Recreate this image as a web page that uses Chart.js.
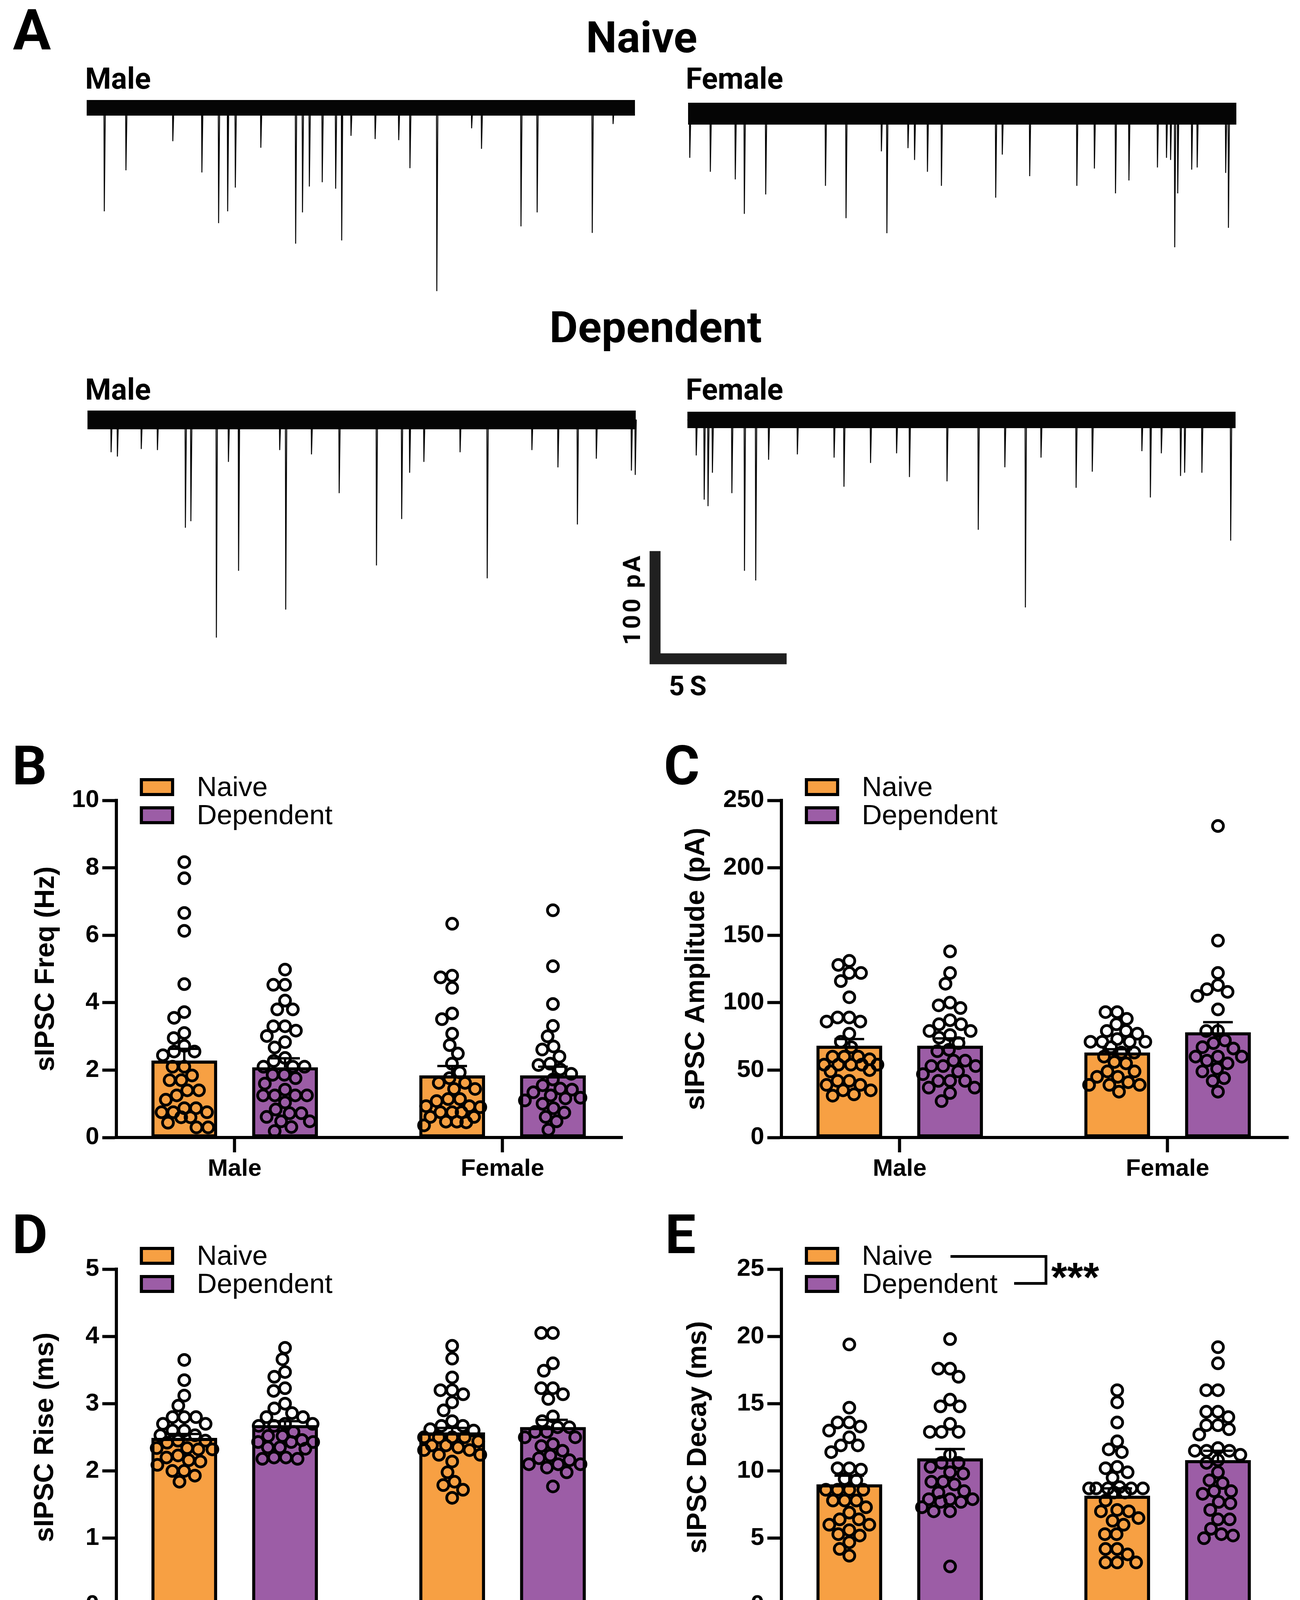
<!DOCTYPE html>
<html>
<head>
<meta charset="utf-8">
<script src="https://cdn.jsdelivr.net/npm/chart.js@4.4.1/dist/chart.umd.min.js"></script>
<style>
html, body { margin: 0; padding: 0; background: #fff; }
#page { position: relative; width: 3329px; height: 4257px; overflow: hidden; background: #fff; }
canvas { position: absolute; }
.t { position: absolute; white-space: nowrap; color: #000; }
.box { position: absolute; box-sizing: border-box; border: 8px solid #000; }
.rule { position: absolute; background: #000; }
</style>
</head>
<body>
<div id="page"></div>
<script>
// ---------- data ----------
const sexes = ['Male', 'Female']
const groups = ['Naive', 'Dependent']

// panel A: example traces, event time (s) and amplitude (pA)
const naiveMaleTimes = [0.63, 1.42, 3.13, 4.19, 4.80, 5.13, 5.41, 6.34, 7.61, 7.86, 8.11, 8.58, 9.07, 9.29, 9.63, 10.51, 11.37, 11.78, 12.76, 14.03, 14.39, 15.83, 16.42, 18.43, 19.19]
const naiveMaleAmps = [96, 58, 31, 60, 107, 96, 74, 37, 126, 97, 73, 69, 75, 123, 26, 29, 30, 56, 170, 19, 38, 110, 97, 116, 15]
const naiveFemaleTimes = [0.05, 0.80, 1.71, 2.04, 2.82, 5.00, 5.75, 7.04, 7.24, 8.01, 8.25, 8.72, 9.23, 11.21, 11.45, 12.45, 14.17, 14.81, 15.58, 16.07, 17.11, 17.44, 17.59, 17.74, 17.85, 18.36, 18.56, 19.60, 19.70]
const naiveFemaleAmps = [41, 54, 61, 93, 75, 67, 97, 35, 111, 32, 43, 54, 67, 78, 38, 58, 67, 51, 74, 62, 50, 41, 43, 124, 74, 52, 50, 55, 106]
const depMaleTimes = [0.85, 1.08, 1.95, 2.54, 3.56, 3.76, 4.69, 5.13, 5.50, 7.00, 7.22, 8.16, 9.17, 10.53, 11.45, 11.74, 12.26, 13.58, 14.57, 16.20, 17.15, 17.86, 18.55, 19.83, 19.97]
const depMaleAmps = [30, 34, 27, 28, 100, 94, 202, 39, 140, 28, 176, 32, 68, 135, 92, 49, 39, 30, 147, 28, 44, 97, 36, 47, 51]
const depFemaleTimes = [0.31, 0.60, 0.74, 0.90, 1.61, 2.07, 2.48, 2.95, 4.00, 5.34, 5.70, 6.67, 7.62, 8.09, 9.46, 10.60, 11.57, 12.32, 12.89, 14.17, 14.76, 16.57, 16.88, 17.28, 17.98, 18.13, 18.76, 19.81]
const depFemaleAmps = [33, 74, 80, 49, 68, 140, 149, 37, 32, 35, 62, 40, 31, 53, 57, 102, 44, 174, 35, 63, 48, 29, 72, 31, 52, 49, 49, 112]
const scaleBarPA = 100
const scaleBarSec = 5

// panels B-E: bar = mean, sem; order Naive male, Dependent male, Naive female, Dependent female
const freqMeans = [2.28, 2.08, 1.84, 1.84]
const freqSems = [0.35, 0.27, 0.28, 0.26]
const freqNaiveMale = [8.17, 7.69, 6.66, 6.13, 4.55, 3.72, 3.55, 3.10, 2.95, 2.72, 2.55, 2.55, 2.44, 2.10, 2.10, 1.84, 1.70, 1.70, 1.40, 1.40, 1.25, 1.12, 0.87, 0.87, 0.75, 0.75, 0.75, 0.60, 0.60, 0.44, 0.30, 0.30]
const freqDepMale = [4.98, 4.53, 4.53, 4.06, 3.80, 3.80, 3.30, 3.30, 3.17, 3.01, 2.83, 2.67, 2.36, 2.27, 2.10, 2.10, 2.10, 1.86, 1.86, 1.76, 1.60, 1.42, 1.25, 1.25, 1.25, 1.25, 1.04, 0.83, 0.72, 0.72, 0.61, 0.48, 0.48, 0.31, 0.19]
const freqNaiveFemale = [6.34, 4.80, 4.75, 4.44, 3.68, 3.51, 3.08, 2.74, 2.49, 2.19, 1.93, 1.76, 1.62, 1.62, 1.44, 1.44, 1.14, 1.14, 1.08, 0.93, 0.93, 0.90, 0.75, 0.75, 0.75, 0.61, 0.61, 0.47, 0.47, 0.45, 0.36]
const freqDepFemale = [6.74, 5.08, 3.96, 3.31, 3.00, 2.70, 2.61, 2.40, 2.19, 2.15, 2.02, 1.89, 1.72, 1.55, 1.45, 1.42, 1.34, 1.25, 1.18, 1.16, 1.10, 1.00, 0.87, 0.74, 0.61, 0.48, 0.23]

const ampMeans = [68, 68, 63, 78]
const ampSems = [5, 5.5, 2.5, 7.5]
const ampNaiveMale = [131, 128, 122, 122, 116, 104, 89, 89, 86, 86, 77, 71, 67, 60, 60, 60, 58, 54, 54, 54, 54, 54, 50, 49, 42, 42, 39, 39, 35, 35, 32, 31]
const ampDepMale = [138, 122, 114, 98, 100, 96, 87, 84, 84, 79, 79, 76, 74, 70, 65, 64, 57, 57, 53, 53, 53, 49, 47, 42, 42, 42, 37, 37, 33, 27]
const ampNaiveFemale = [93, 93, 88, 84, 79, 79, 77, 73, 71, 71, 71, 71, 67, 63, 63, 60, 56, 55, 49, 49, 45, 45, 41, 39, 39, 39, 34]
const ampDepFemale = [231, 146, 122, 113, 110, 108, 105, 95, 79, 79, 72, 70, 67, 66, 60, 60, 60, 57, 55, 51, 49, 44, 42, 34]

const riseMeans = [2.49, 2.68, 2.57, 2.65]
const riseSems = [0.06, 0.06, 0.07, 0.11]
const riseNaiveMale = [3.65, 3.35, 3.12, 2.97, 2.80, 2.80, 2.80, 2.70, 2.70, 2.60, 2.60, 2.53, 2.53, 2.45, 2.45, 2.42, 2.34, 2.34, 2.32, 2.32, 2.23, 2.20, 2.16, 2.14, 2.09, 2.00, 2.00, 1.93, 1.84]
const riseDepMale = [3.83, 3.66, 3.47, 3.40, 3.23, 3.19, 3.00, 2.93, 2.86, 2.80, 2.80, 2.70, 2.70, 2.67, 2.67, 2.58, 2.52, 2.52, 2.46, 2.43, 2.43, 2.43, 2.35, 2.35, 2.33, 2.20, 2.20, 2.18, 2.18]
const riseNaiveFemale = [3.86, 3.67, 3.39, 3.20, 3.20, 3.14, 3.02, 2.90, 2.74, 2.67, 2.67, 2.62, 2.60, 2.50, 2.50, 2.50, 2.50, 2.44, 2.38, 2.38, 2.35, 2.31, 2.31, 2.24, 2.24, 2.14, 1.98, 1.84, 1.79, 1.72, 1.60]
const riseDepFemale = [4.05, 4.05, 3.60, 3.49, 3.23, 3.23, 3.14, 3.07, 2.81, 2.74, 2.65, 2.65, 2.58, 2.58, 2.50, 2.50, 2.40, 2.37, 2.30, 2.23, 2.19, 2.16, 2.10, 2.10, 2.10, 2.05, 1.98, 1.77]

const decayMeans = [9.0, 10.93, 8.15, 10.8]
const decaySems = [0.65, 0.7, 0.55, 0.7]
const decayNaiveMale = [19.4, 14.7, 13.6, 13.6, 13.3, 13.0, 12.5, 11.9, 11.9, 11.4, 10.2, 10.2, 10.1, 9.4, 9.3, 8.6, 8.6, 8.6, 8.6, 7.8, 7.8, 7.8, 7.3, 6.9, 6.4, 6.4, 6.0, 6.0, 5.6, 5.3, 5.2, 4.7, 4.2, 3.7]
const decayDepMale = [19.8, 17.6, 17.6, 17.0, 15.3, 14.8, 14.8, 13.5, 12.9, 12.9, 12.9, 11.2, 10.6, 10.6, 10.3, 9.9, 9.8, 9.2, 9.2, 9.0, 8.5, 8.4, 7.9, 7.9, 7.9, 7.7, 7.7, 7.3, 7.0, 7.0, 2.9]
const decayNaiveFemale = [16.0, 15.1, 13.6, 12.2, 11.6, 11.4, 10.3, 10.2, 9.9, 9.5, 8.8, 8.7, 8.7, 8.7, 8.7, 8.7, 8.4, 8.4, 7.8, 7.1, 7.0, 7.0, 6.5, 6.3, 6.0, 5.3, 5.3, 4.2, 4.2, 3.8, 3.2, 3.2, 3.2]
const decayDepFemale = [19.2, 18.0, 16.0, 16.0, 14.4, 14.4, 14.0, 13.4, 13.4, 13.1, 12.7, 11.7, 11.5, 11.5, 11.5, 11.2, 10.8, 10.6, 9.9, 9.3, 9.1, 8.5, 8.5, 8.3, 7.7, 7.6, 7.1, 6.4, 6.4, 5.7, 5.3, 5.2, 5.0]

// ---------- styling ----------
const ORANGE = '#F7A043'
const PURPLE = '#9C5DA6'
const page = document.getElementById('page')
Chart.defaults.font.family = '"Liberation Sans", Arial, sans-serif'
Chart.defaults.color = '#000'

function addText(str, x, base, size, o = {}) {
  const el = document.createElement('div')
  el.className = 't'
  el.textContent = str
  el.style.font = `${o.weight || 'bold'} ${size}px/1 ${o.family || 'Roboto'}`
  el.style.left = x + 'px'
  el.style.top = (base - 0.845 * size) + 'px'
  if (o.align === 'center') el.style.transform = 'translateX(-50%)'
  if (o.spacing) el.style.letterSpacing = o.spacing + 'px'
  page.appendChild(el)
  return el
}

function addCanvas(left, top, w, h) {
  const c = document.createElement('canvas')
  c.width = Math.round(w); c.height = Math.round(h)
  c.style.left = Math.round(left) + 'px'; c.style.top = Math.round(top) + 'px'
  c.style.width = c.width + 'px'; c.style.height = c.height + 'px'
  page.appendChild(c)
  return c
}

// ---------- panel A: traces ----------
const pxPerSec = 70.2
const pxPerPA = 2.76

function traceChart({x0, baseline, tMin, tMax, yMin, yMax, band, times, amps, scaleBar}) {
  const w = (tMax - tMin) * pxPerSec
  const h = (yMax - yMin) * pxPerPA
  const canvas = addCanvas(x0 + tMin * pxPerSec, baseline - yMax * pxPerPA, w, h)
  const events = [{x: 0, y: 0}]
  times.forEach((t, i) => {
    events.push({x: t, y: 0}, {x: t + 0.012, y: -amps[i]}, {x: t + 0.05, y: 0})
  })
  events.push({x: 20, y: 0})
  const datasets = [
    // baseline noise drawn as a solid band
    {data: [{x: 0, y: 0}, {x: 20, y: 0}], borderColor: '#050505', borderWidth: band, pointRadius: 0, borderCapStyle: 'butt'},
    {data: events, borderColor: '#050505', borderWidth: 2.5, pointRadius: 0, borderJoinStyle: 'bevel'}
  ]
  if (scaleBar) {
    const t0 = -1.18, top = -121.7
    const half = 14 / pxPerSec
    datasets.push({
      data: [{x: t0, y: top}, {x: t0, y: top - scaleBarPA}, {x: t0 - half + scaleBarSec, y: top - scaleBarPA}],
      borderColor: '#202020', borderWidth: 28, pointRadius: 0, borderJoinStyle: 'miter', borderCapStyle: 'butt'
    })
  }
  new Chart(canvas, {
    type: 'line',
    data: {datasets},
    options: {
      responsive: false, animation: false, devicePixelRatio: 1,
      layout: {padding: 0},
      plugins: {legend: {display: false}, tooltip: {enabled: false}},
      scales: {
        x: {type: 'linear', min: tMin, max: tMax, display: false},
        y: {type: 'linear', min: yMin, max: yMax, display: false}
      }
    }
  })
}

traceChart({x0: 222, baseline: 276, tMin: 0, tMax: 20.1, yMin: -200, yMax: 25, band: 40, times: naiveMaleTimes, amps: naiveMaleAmps})
traceChart({x0: 1762, baseline: 291, tMin: 0, tMax: 20.1, yMin: -140, yMax: 25, band: 56, times: naiveFemaleTimes, amps: naiveFemaleAmps})
traceChart({x0: 224, baseline: 1075, tMin: 0, tMax: 20.1, yMin: -220, yMax: 25, band: 48, times: depMaleTimes, amps: depMaleAmps})
traceChart({x0: 1760, baseline: 1075, tMin: -1.6, tMax: 20.1, yMin: -240, yMax: 25, band: 42, times: depFemaleTimes, amps: depFemaleAmps, scaleBar: true})

addText('A', 33, 128, 145)
addText('Naive', 1643, 135, 112, {align: 'center'})
addText('Dependent', 1679, 877, 112, {align: 'center'})
addText('Male', 218, 227, 76)
addText('Female', 1756, 227, 76)
addText('Male', 218, 1023, 76)
addText('Female', 1756, 1023, 76)
// scale bar labels
const pa = addText('100 pA', 0, 0, 62, {spacing: 6})
pa.style.left = '1618px'; pa.style.top = '1534px'
pa.style.transform = 'translate(-50%, -50%) rotate(-90deg)'
addText('5 S', 1760, 1780, 70, {align: 'center', spacing: -2})

// ---------- panels B-E: bars with scatter ----------
const barSpacing = 258 // px between the two bars of a group
const barPx = 168
const groupCenters = [1.174, 3.833]

const semPlugin = {
  id: 'semBars',
  afterDatasetDraw(chart, args) {
    if (args.index !== 0) return
    const ds = chart.data.datasets[0]
    const {ctx, scales: {x, y}} = chart
    ctx.save()
    ctx.strokeStyle = '#000'
    ctx.lineWidth = 6
    ds.data.forEach((d, i) => {
      const px = x.getPixelForValue(d.x)
      const y0 = y.getPixelForValue(d.y)
      const y1 = y.getPixelForValue(d.y + ds.sem[i])
      ctx.beginPath()
      ctx.moveTo(px, y0); ctx.lineTo(px, y1)
      ctx.moveTo(px - 38, y1); ctx.lineTo(px + 38, y1)
      ctx.stroke()
    })
    ctx.restore()
  }
}

function swarm(chart, dsIndex, center, values) {
  const xs = chart.scales.x, ys = chart.scales.y
  const ppu = xs.getPixelForValue(1) - xs.getPixelForValue(0)
  const D = 30, maxOff = 72
  const order = values.map((v, i) => i).sort((a, b) => values[b] - values[a])
  const placed = []
  const offs = new Array(values.length)
  for (const i of order) {
    const py = ys.getPixelForValue(values[i])
    const near = placed.filter(p => Math.abs(p.y - py) < D)
    const cands = [0]
    near.forEach(p => {
      const dx = Math.sqrt(D * D - (p.y - py) ** 2)
      cands.push(p.x + dx, p.x - dx)
    })
    cands.sort((a, b) => Math.abs(a) - Math.abs(b) || a - b)
    let best = null
    for (const c of cands) {
      if (Math.abs(c) > maxOff) continue
      if (near.every(p => Math.hypot(p.x - c, p.y - py) >= D - 0.01)) { best = c; break }
    }
    if (best === null) {
      let score = -1
      for (let c = -maxOff; c <= maxOff; c += 4) {
        const s = Math.min(...near.map(p => Math.hypot(p.x - c, p.y - py)))
        if (s > score) { score = s; best = c }
      }
    }
    placed.push({x: best, y: py})
    offs[i] = best
  }
  chart.data.datasets[dsIndex].data = values.map((v, i) => ({x: center + offs[i] / ppu, y: v}))
}

function barPanel(p) {
  const xAxisH = 145
  const height = p.areaBottom + xAxisH - p.top
  const canvas = addCanvas(p.left, p.top, p.width, height)
  const xMax = (p.areaRight - p.axisX) / barSpacing
  const positions = [groupCenters[0] - 0.5, groupCenters[0] + 0.5, groupCenters[1] - 0.5, groupCenters[1] + 0.5]
  const colors = [ORANGE, PURPLE, ORANGE, PURPLE]
  const datasets = [{
    type: 'bar',
    data: p.means.map((m, i) => ({x: positions[i], y: m})),
    sem: p.sems,
    backgroundColor: colors,
    borderColor: '#000',
    borderWidth: 8,
    borderSkipped: false,
    barThickness: barPx,
    order: 2
  }]
  p.points.forEach((vals, i) => {
    datasets.push({
      type: 'scatter',
      data: vals.map(v => ({x: positions[i], y: v})),
      pointRadius: 14,
      pointBorderWidth: 7,
      pointBorderColor: '#000',
      pointBackgroundColor: 'rgba(0,0,0,0)',
      showLine: false,
      order: 1
    })
  })
  const chart = new Chart(canvas, {
    type: 'bar',
    data: {datasets},
    plugins: [semPlugin],
    options: {
      responsive: false, animation: false, devicePixelRatio: 1,
      layout: {padding: {left: 0, top: p.areaTop - p.top, right: p.left + p.width - p.areaRight, bottom: 0}},
      plugins: {legend: {display: false}, tooltip: {enabled: false}},
      scales: {
        x: {
          type: 'linear', min: 0, max: xMax, offset: false,
          grid: {drawOnChartArea: false, offset: false, tickLength: 38, tickWidth: 8, tickColor: '#000'},
          border: {display: true, width: 8, color: '#000'},
          ticks: {font: {size: 62, weight: 'bold'}, padding: 6, autoSkip: false, maxRotation: 0,
                  callback: (v, i) => sexes[i]},
          afterBuildTicks: s => { s.ticks = groupCenters.map(v => ({value: v})) },
          afterFit: s => { s.height = xAxisH }
        },
        y: {
          type: 'linear', min: 0, max: p.yMax,
          grid: {drawOnChartArea: false, tickLength: 36, tickWidth: 8, tickColor: '#000'},
          border: {display: true, width: 8, color: '#000'},
          ticks: {stepSize: p.step, font: {size: 63, weight: 'bold'}, padding: 8},
          title: {display: true, text: p.title, font: {size: 70, weight: 'bold'},
                  padding: {top: p.titleX - p.left - 42, bottom: 0}},
          afterFit: s => { s.width = p.axisX - p.left }
        }
      }
    }
  })
  p.points.forEach((vals, i) => swarm(chart, i + 1, positions[i], vals))
  chart.update('none')

  // legend
  const lx = p.axisX + 60
  const ly = p.areaTop - 57
  ;[ORANGE, PURPLE].forEach((c, i) => {
    const b = document.createElement('div')
    b.className = 'box'
    b.style.left = lx + 'px'; b.style.top = (ly + i * 72) + 'px'
    b.style.width = '88px'; b.style.height = '46px'
    b.style.background = c
    page.appendChild(b)
    addText(groups[i], lx + 146, ly + 46 + i * 72, 71, {family: '"Liberation Sans"', weight: 'normal'})
  })
  addText(p.letter, p.letterX, p.areaTop - 41, 140)
}

barPanel({letter: 'B', letterX: 31, left: 0, top: 1880, width: 1650, axisX: 298, areaTop: 2049, areaBottom: 2912, areaRight: 1594,
  titleX: 119, yMax: 10, step: 2, title: 'sIPSC Freq (Hz)', means: freqMeans, sems: freqSems,
  points: [freqNaiveMale, freqDepMale, freqNaiveFemale, freqDepFemale]})
barPanel({letter: 'C', letterX: 1700, left: 1650, top: 1880, width: 1679, axisX: 2001, areaTop: 2049, areaBottom: 2912, areaRight: 3299,
  titleX: 1784, yMax: 250, step: 50, title: 'sIPSC Amplitude (pA)', means: ampMeans, sems: ampSems,
  points: [ampNaiveMale, ampDepMale, ampNaiveFemale, ampDepFemale]})
barPanel({letter: 'D', letterX: 31, left: 0, top: 3080, width: 1650, axisX: 298, areaTop: 3249, areaBottom: 4110, areaRight: 1594,
  titleX: 117, yMax: 5, step: 1, title: 'sIPSC Rise (ms)', means: riseMeans, sems: riseSems,
  points: [riseNaiveMale, riseDepMale, riseNaiveFemale, riseDepFemale]})
barPanel({letter: 'E', letterX: 1703, left: 1650, top: 3080, width: 1679, axisX: 2001, areaTop: 3249, areaBottom: 4110, areaRight: 3299,
  titleX: 1789, yMax: 25, step: 5, title: 'sIPSC Decay (ms)', means: decayMeans, sems: decaySems,
  points: [decayNaiveMale, decayDepMale, decayNaiveFemale, decayDepFemale]})

// significance bracket on panel E
function rule(l, t, w, h) {
  const r = document.createElement('div')
  r.className = 'rule'
  r.style.left = l + 'px'; r.style.top = t + 'px'
  r.style.width = w + 'px'; r.style.height = h + 'px'
  page.appendChild(r)
}
rule(2434, 3213, 248, 7)
rule(2675, 3213, 7, 76)
rule(2597, 3282, 85, 7)
addText('***', 2692, 3306, 105, {family: '"Liberation Sans"'})
</script>
</body>
</html>
